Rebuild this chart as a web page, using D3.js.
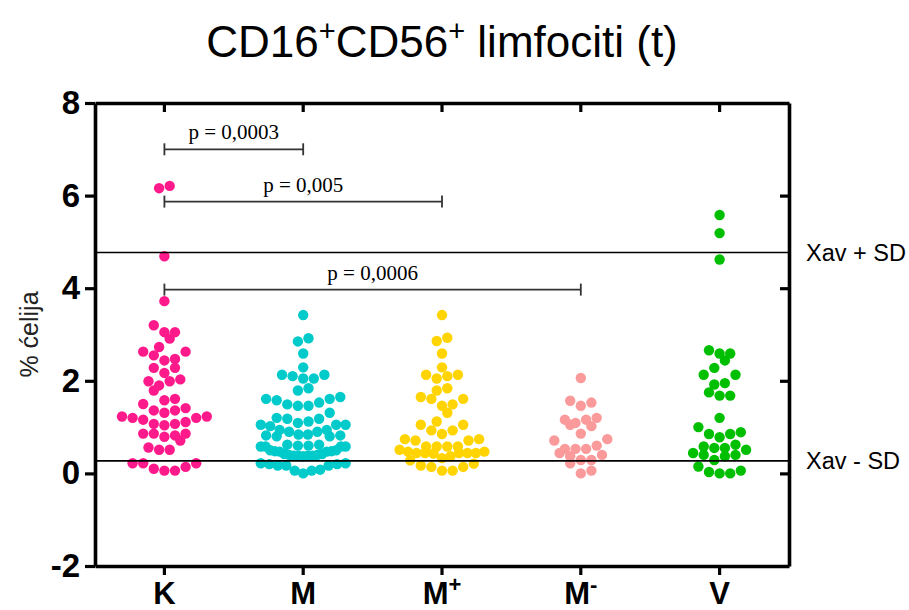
<!DOCTYPE html>
<html><head><meta charset="utf-8">
<script src="https://cdn.jsdelivr.net/npm/d3@7"></script>
<style>body{margin:0;background:#fff} svg{display:block}</style>
</head><body><svg id="chart" width="909" height="610"></svg>
<script>
// ---------- data ----------
const categories = ["K", "M", "M+", "M-", "V"];
const categoryBase = ["K", "M", "M", "M", "V"];
const categorySup = ["", "", "+", "-", ""];
const colors = ["#FF1A8C", "#00CACA", "#FFD400", "#FA9A9A", "#00BF00"];

const valuesK = [6.21, 6.16, 4.69, 3.72, 3.20, 3.05, 3.05, 2.91, 2.73, 2.63, 2.55, 2.63, 2.44, 2.47,
  2.28, 2.28, 2.17, 1.99, 1.90, 1.99, 2.03, 1.79, 1.61, 1.58, 1.50, 1.36, 1.31, 1.36, 1.41,
  1.23, 1.20, 1.11, 1.07, 1.04, 1.07, 1.16, 1.20, 1.23, 0.86, 0.86, 0.71, 0.79, 0.82, 0.86,
  0.51, 0.51, 0.56, 0.22, 0.22, 0.22, 0.10, 0.06, 0.06, 0.14];
const valuesM = [3.42, 2.92, 2.85, 2.59, 2.29, 2.13, 2.13, 2.10, 2.05, 2.05, 1.84, 1.79, 1.65, 1.61,
  1.61, 1.58, 1.53, 1.49, 1.46, 1.46, 1.31, 1.20, 1.18, 1.18, 1.12, 1.09, 1.05, 1.05, 1.05,
  1.02, 0.94, 0.94, 0.90, 0.84, 0.82, 0.80, 0.80, 0.82, 0.84, 0.90, 0.62, 0.60, 0.58, 0.58,
  0.58, 0.58, 0.60, 0.62, 0.50, 0.48, 0.47, 0.47, 0.48, 0.50, 0.42, 0.40, 0.38, 0.38, 0.37,
  0.38, 0.38, 0.40, 0.42, 0.22, 0.20, 0.17, 0.17, 0.17, 0.20, 0.22, 0.06, 0.06, 0.08, 0.00];
const valuesMplus = [3.42, 2.93, 2.86, 2.59, 2.13, 2.10, 2.05, 2.13, 2.29, 1.79, 1.84, 1.61, 1.49,
  1.46, 1.31, 1.61, 1.65, 1.05, 1.12, 0.93, 0.85, 0.93, 1.05, 0.74, 0.71, 0.58, 0.58, 0.51,
  0.58, 0.58, 0.71, 0.74, 0.47, 0.44, 0.44, 0.44, 0.43, 0.44, 0.44, 0.47, 0.33, 0.28, 0.37,
  0.17, 0.14, 0.06, 0.06, 0.14, 0.21];
const valuesMminus = [2.06, 1.53, 1.46, 1.57, 1.16, 1.09, 1.02, 1.05, 1.16, 1.20, 0.86, 0.71, 0.74,
  0.44, 0.37, 0.53, 0.53, 0.53, 0.60, 0.40, 0.29, 0.22, 0.29, 0.06, 0.00];
const valuesV = [5.58, 5.19, 4.62, 2.59, 2.59, 2.66, 2.44, 2.28, 2.13, 2.13, 1.92, 1.95, 1.68, 1.68,
  1.75, 1.20, 0.89, 0.85, 0.78, 0.85, 1.00, 0.51, 0.58, 0.55, 0.55, 0.62, 0.40, 0.37, 0.29,
  0.40, 0.44, 0.15, 0.03, 0.00, 0.00, 0.06];
const groupValues = [valuesK, valuesM, valuesMplus, valuesMminus, valuesV];

const yTicks = [-2, 0, 2, 4, 6, 8];
const yRightTicks = [0, 2, 4, 6];
const refValues = [4.77, 0.27];
const refLabels = ["Xav + SD", "Xav - SD"];
const compFrom = ["K", "K", "K"];
const compTo = ["M", "M+", "M-"];
const compLevel = [7.0, 5.87, 3.97];
const compText = ["p = 0,0003", "p = 0,005", "p = 0,0006"];
const yLabel = "% ćelija";

// ---------- layout ----------
const svg = d3.select("#chart");
const pL = 95, pR = 789, pT = 103, pB = 566;
const x = d3.scaleBand().domain(categories).range([pL, pR]).padding(0);
const y = d3.scaleLinear().domain([-2, 8]).range([pB, pT]);
const cx = c => x(c) + x.bandwidth() / 2;
const sans = "'Liberation Sans', Arial, sans-serif";
const serif = "'Liberation Serif', 'Times New Roman', serif";

// ---------- title ----------
const title = svg.append("text").attr("x", (pL + pR) / 2).attr("y", 57)
  .attr("text-anchor", "middle").attr("font-family", sans).attr("font-size", 44).attr("fill", "#000");
title.append("tspan").text("CD16");
title.append("tspan").text("+").attr("font-size", 29).attr("dy", -16);
title.append("tspan").text("CD56").attr("dy", 16);
title.append("tspan").text("+").attr("font-size", 29).attr("dy", -16);
title.append("tspan").text(" limfociti (t)").attr("dy", 16);

// ---------- swarm layout (GraphPad style rows) ----------
const diam = 10.6;
function swarm(vals, center) {
  const sorted = vals.slice().sort((a, b) => a - b);
  const binW = diam / (y(0) - y(1));
  const bins = [];
  let cur = null;
  sorted.forEach(v => {
    if (!cur || v - cur[0] > binW) { cur = []; bins.push(cur); }
    cur.push(v);
  });
  const out = [];
  bins.forEach(b => {
    const n = b.length;
    const step = n > 9 ? (8 * diam) / (n - 1) : diam;
    b.forEach((v, i) => {
      let off;
      if (n % 2 === 1) {
        off = i === 0 ? 0 : Math.ceil(i / 2) * (i % 2 === 1 ? 1 : -1);
      } else {
        const k = Math.floor(i / 2) + 0.5;
        off = i % 2 === 0 ? -k : k;
      }
      out.push({ v, px: center + off * step });
    });
  });
  return out;
}

// ---------- points ----------
categories.forEach((c, gi) => {
  const pts = swarm(groupValues[gi], cx(c));
  svg.append("g").selectAll("circle").data(pts).join("circle")
    .attr("cx", d => d.px).attr("cy", d => y(d.v)).attr("r", 5.2)
    .attr("fill", colors[gi]);
});

// ---------- reference lines ----------
refValues.forEach((v, i) => {
  svg.append("line").attr("x1", pL).attr("x2", pR).attr("y1", y(v)).attr("y2", y(v))
    .attr("stroke", "#000").attr("stroke-width", 1.6);
  svg.append("text").attr("x", pR + 17).attr("y", y(v)).attr("dy", "0.36em")
    .attr("font-family", sans).attr("font-size", 23.5).attr("fill", "#000").text(refLabels[i]);
});

// ---------- comparison brackets ----------
compText.forEach((t, i) => {
  const x1 = cx(compFrom[i]), x2 = cx(compTo[i]), yy = y(compLevel[i]);
  const g = svg.append("g").attr("stroke", "#333").attr("stroke-width", 1.8);
  g.append("line").attr("x1", x1).attr("x2", x2).attr("y1", yy).attr("y2", yy);
  g.append("line").attr("x1", x1).attr("x2", x1).attr("y1", yy - 6).attr("y2", yy + 6);
  g.append("line").attr("x1", x2).attr("x2", x2).attr("y1", yy - 6).attr("y2", yy + 6);
  svg.append("text").attr("x", (x1 + x2) / 2).attr("y", yy - 10).attr("text-anchor", "middle")
    .attr("font-family", serif).attr("font-size", 21).attr("fill", "#000").text(t);
});

// ---------- axes / frame ----------
function styleAxis(g) {
  g.select(".domain").attr("stroke", "#000").attr("stroke-width", 3.6);
  g.selectAll(".tick line").attr("stroke", "#000").attr("stroke-width", 3.2);
}
const yAxis = svg.append("g").attr("transform", `translate(${pL},0)`)
  .call(d3.axisLeft(y).tickValues(yTicks).tickSize(10).tickSizeOuter(0).tickPadding(5)
    .tickFormat(d => String(d)));
styleAxis(yAxis);
yAxis.selectAll(".tick text").attr("font-family", sans).attr("font-size", 33)
  .attr("font-weight", "bold").attr("fill", "#000");

const yAxisR = svg.append("g").attr("transform", `translate(${pR},0)`)
  .call(d3.axisRight(y).tickValues(yRightTicks).tickSize(-9).tickSizeOuter(0).tickFormat(""));
styleAxis(yAxisR);

const xTop = svg.append("g").attr("transform", `translate(0,${pT})`)
  .call(d3.axisTop(x).tickSize(-9).tickSizeOuter(0).tickFormat(""));
styleAxis(xTop);

const xAxis = svg.append("g").attr("transform", `translate(0,${pB})`)
  .call(d3.axisBottom(x).tickSize(9).tickSizeOuter(0).tickFormat(""));
styleAxis(xAxis);

categories.forEach((c, i) => {
  const t = svg.append("text").attr("x", cx(c)).attr("y", 604).attr("text-anchor", "middle")
    .attr("font-family", sans).attr("font-size", 31).attr("font-weight", "bold").attr("fill", "#000");
  t.append("tspan").text(categoryBase[i]);
  if (categorySup[i]) t.append("tspan").text(categorySup[i]).attr("font-size", 22).attr("dy", -12);
});

// ---------- y label ----------
svg.append("text").attr("transform", `translate(38,${(pT + pB) / 2}) rotate(-90)`)
  .attr("text-anchor", "middle").attr("font-family", sans).attr("font-size", 25)
  .attr("fill", "#222").text(yLabel);
</script>
</body></html>
